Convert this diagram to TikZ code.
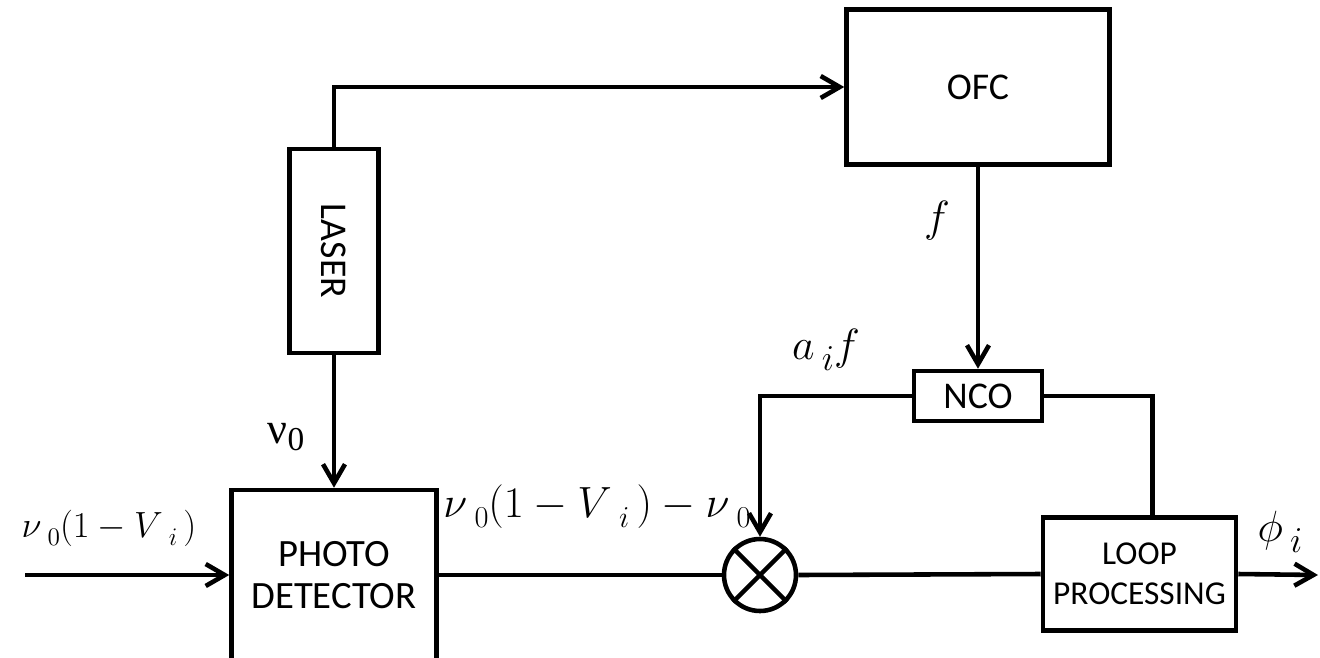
\documentclass[tikz,border=0pt]{standalone}
\usepackage[no-math]{fontspec}
\usepackage{amsmath}
\usepackage{tikz}
\setmainfont{Carlito}
\newfontfamily\timesfont{Liberation Serif}
\usetikzlibrary{arrows.meta}
% subscript set apart and lowered
\newcommand{\lowsub}[1]{\,\lower0.45ex\hbox{$\scriptstyle #1$}}

\begin{document}
\begin{tikzpicture}[x=0.02cm, y=-0.02cm,
  blk/.style={draw, line width=2.6pt, align=center, inner sep=0pt},
  wire/.style={line width=2.6pt},
  sig/.style={wire, -{Straight Barb[length=3.8mm, width=4.4mm]}},
  lbl/.style={inner sep=0pt, font=\fontsize{28}{32}\selectfont}]
  \useasboundingbox (0,0) rectangle (1320,657);
  % blocks
  \node[blk, minimum width=4.1cm, minimum height=3.4cm, font=\fontsize{22}{23.8}\selectfont] (pd) at (334,575) {PHOTO\\DETECTOR};
  \node[blk, minimum width=1.78cm, minimum height=4.08cm, font=\fontsize{21.5}{24}\selectfont] (laser) at (334,251) {\rotatebox{-90}{LASER}};
  \node[blk, minimum width=5.26cm, minimum height=3.1cm, font=\fontsize{21.5}{24}\selectfont] (ofc) at (978,87) {OFC};
  \node[blk, minimum width=2.56cm, minimum height=1cm, font=\fontsize{21.5}{24}\selectfont] (nco) at (978,396) {NCO};
  \node[blk, minimum width=3.86cm, minimum height=2.26cm, font=\fontsize{19}{22.7}\selectfont] (loop) at (1139.5,574) {LOOP\\PROCESSING};
  \node[blk, circle, minimum size=1.44cm] (mix) at (760,575) {};
  \draw[wire] (mix.45) -- (mix.225);
  \draw[wire] (mix.135) -- (mix.315);
  % free ends
  \coordinate (in) at (25,575);
  \coordinate (out) at (1318,575);
  % connectors
  \draw[sig] (in) -- (pd.west);
  \draw[sig] (laser.north) |- (ofc.west);
  \draw[sig] (laser.south) -- (pd.north);
  \draw[sig] (ofc.south) -- (nco.north);
  \draw[sig] (nco.west) -| (mix.north);
  \draw[wire] (nco.east) -| ([xshift=0.26cm]loop.north);
  \draw[wire] (pd.east) -- (mix.west);
  \draw[wire] (mix.east) -- (loop.west);
  \draw[sig] (loop.east) -- (out);
  % labels
  \node[lbl, font=\fontsize{22.5}{26}\selectfont] (lin) at (109,528) {$\nu\lowsub{0}(1-V\lowsub{i}\,)$};
  \node[lbl] (lnu) at (286,437) {\timesfont\fontsize{25}{28}\selectfont ν\raisebox{-0.35ex}{\fontsize{19}{22}\selectfont 0}};
  \node[lbl, font=\fontsize{25}{28}\selectfont] (lmid) at (597,507) {$\nu\lowsub{0}(1-V\lowsub{i}\,)-\nu\lowsub{0}$};
  \node[lbl] (lf) at (937,221) {$f$};
  \node[lbl] (laf) at (826,350) {$a\lowsub{i}f$};
  \node[lbl] (lphi) at (1280,532) {$\phi\lowsub{i}$};
\end{tikzpicture}
\end{document}
